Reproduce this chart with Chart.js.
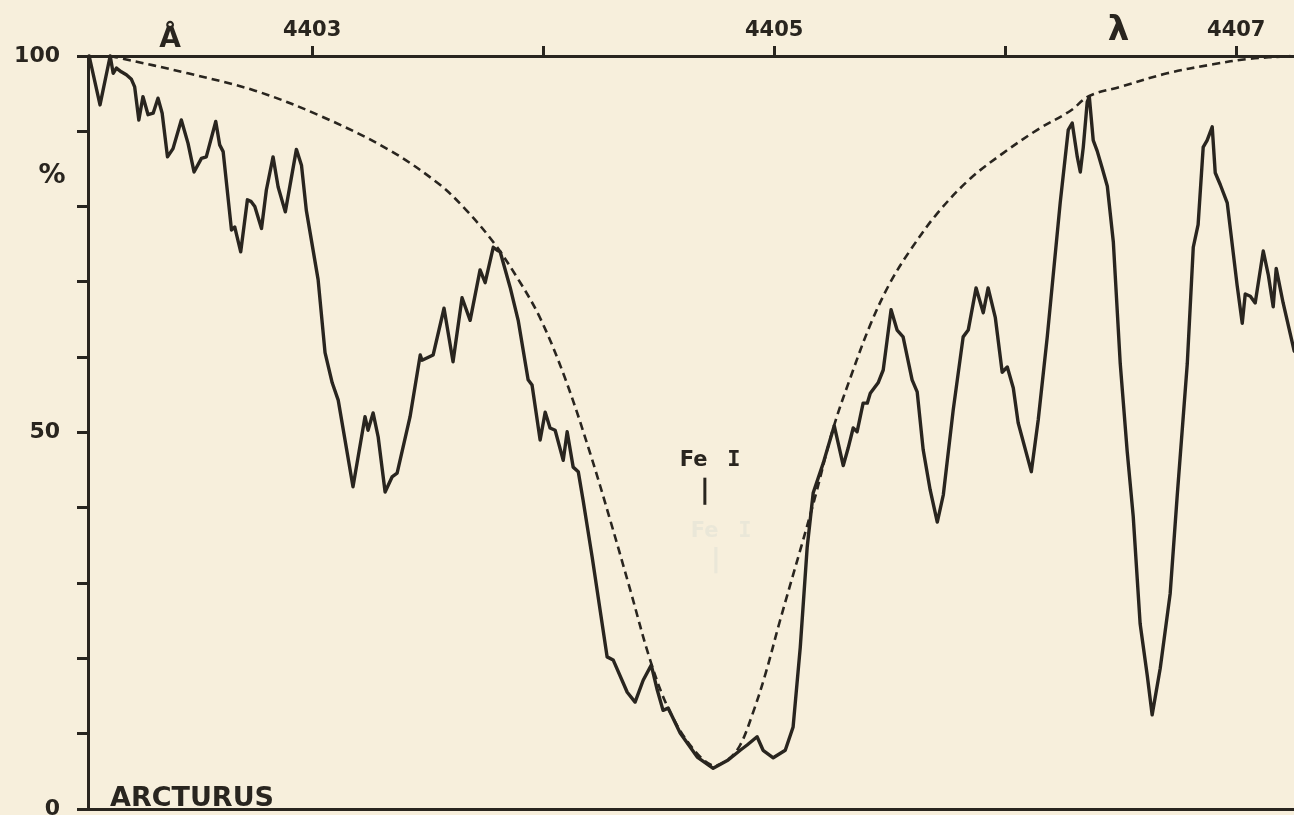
<!DOCTYPE html>
<html>
<head>
<meta charset="utf-8">
<title>Arcturus – Fe I 4404.75</title>
<script src="https://cdn.jsdelivr.net/npm/chart.js@4.4.1/dist/chart.umd.min.js"></script>
<style>
  html, body { margin: 0; padding: 0; background: #f7efdc; }
  #wrap { width: 1294px; height: 815px; }
  canvas { display: block; }
</style>
</head>
<body>
<div id="wrap"><canvas id="chart" width="1294" height="815"></canvas></div>
<script>
// Wavelength (Å) and residual intensity (%) of the tracing
const specWave = [
  4402.035, 4402.082, 4402.126, 4402.139, 4402.153, 4402.174, 4402.196, 4402.218, 4402.232, 4402.250,
  4402.268, 4402.290, 4402.312, 4402.333, 4402.351, 4402.374, 4402.398, 4402.434, 4402.463, 4402.489,
  4402.521, 4402.542, 4402.583, 4402.600, 4402.615, 4402.651, 4402.665, 4402.691, 4402.720, 4402.735,
  4402.752, 4402.781, 4402.802, 4402.831, 4402.853, 4402.884, 4402.932, 4402.954, 4402.975, 4403.026,
  4403.056, 4403.087, 4403.113, 4403.177, 4403.229, 4403.242, 4403.264, 4403.286, 4403.316, 4403.346,
  4403.368, 4403.424, 4403.468, 4403.476, 4403.524, 4403.571, 4403.610, 4403.649, 4403.684, 4403.727,
  4403.749, 4403.784, 4403.801, 4403.814, 4403.857, 4403.892, 4403.935, 4403.952, 4403.987, 4404.009,
  4404.030, 4404.052, 4404.087, 4404.104, 4404.130, 4404.152, 4404.173, 4404.212, 4404.277, 4404.303,
  4404.364, 4404.398, 4404.433, 4404.468, 4404.494, 4404.519, 4404.541, 4404.593, 4404.667, 4404.736,
  4404.801, 4404.853, 4404.883, 4404.926, 4404.952, 4404.996, 4405.048, 4405.082, 4405.113, 4405.143,
  4405.169, 4405.212, 4405.260, 4405.299, 4405.320, 4405.342, 4405.359, 4405.385, 4405.403, 4405.416,
  4405.450, 4405.472, 4405.489, 4405.506, 4405.532, 4405.558, 4405.597, 4405.619, 4405.645, 4405.675,
  4405.706, 4405.732, 4405.775, 4405.818, 4405.840, 4405.874, 4405.905, 4405.926, 4405.957, 4405.987,
  4406.009, 4406.035, 4406.056, 4406.113, 4406.143, 4406.182, 4406.238, 4406.273, 4406.290, 4406.312,
  4406.325, 4406.338, 4406.355, 4406.364, 4406.381, 4406.398, 4406.420, 4406.442, 4406.468, 4406.498,
  4406.528, 4406.554, 4406.584, 4406.615, 4406.636, 4406.671, 4406.714, 4406.745, 4406.788, 4406.814,
  4406.835, 4406.857, 4406.874, 4406.896, 4406.909, 4406.931, 4406.961, 4407.004, 4407.026, 4407.039,
  4407.061, 4407.082, 4407.117, 4407.139, 4407.160, 4407.173, 4407.203, 4407.251
];
const specFlux = [
  100.0, 93.5, 100.0, 97.7, 98.4, 97.9, 97.5, 96.9, 95.9, 91.5,
  94.6, 92.2, 92.4, 94.4, 92.4, 86.6, 87.7, 91.5, 88.4, 84.6,
  86.4, 86.6, 91.3, 88.2, 87.3, 76.9, 77.3, 74.0, 80.9, 80.7,
  80.0, 77.1, 82.2, 86.6, 82.6, 79.3, 87.6, 85.5, 79.5, 70.3,
  60.6, 56.6, 54.3, 42.8, 52.1, 50.3, 52.6, 49.4, 42.1, 44.1,
  44.6, 52.1, 60.3, 59.6, 60.3, 66.5, 59.4, 67.9, 64.9, 71.6,
  69.9, 74.6, 74.2, 74.0, 69.3, 64.9, 57.0, 56.3, 49.0, 52.7,
  50.6, 50.3, 46.3, 50.1, 45.4, 44.8, 41.0, 33.5, 20.2, 19.8,
  15.5, 14.2, 17.1, 19.1, 15.8, 13.1, 13.4, 10.1, 6.9, 5.4,
  6.5, 7.8, 8.5, 9.6, 7.8, 6.8, 7.8, 10.9, 21.5, 34.8,
  42.0, 45.9, 50.9, 45.6, 47.9, 50.6, 50.1, 53.9, 53.9, 55.2,
  56.6, 58.3, 62.3, 66.3, 63.6, 62.7, 57.0, 55.4, 47.7, 42.4,
  38.1, 41.7, 53.0, 62.7, 63.6, 69.2, 65.9, 69.2, 65.3, 58.0,
  58.7, 55.9, 51.3, 44.8, 51.7, 62.7, 80.5, 90.2, 91.1, 86.6,
  84.6, 87.9, 93.9, 94.6, 88.8, 87.4, 85.1, 82.7, 75.3, 59.1,
  47.5, 38.9, 24.6, 17.7, 12.5, 18.7, 28.6, 41.8, 59.1, 74.6,
  77.6, 87.9, 88.8, 90.6, 84.5, 82.9, 80.5, 69.5, 64.5, 68.4,
  68.1, 67.2, 74.1, 70.9, 66.7, 71.8, 67.2, 60.8
];

// Fitted profile of the Fe I line (dashed)
const profWave = [
  4402.126, 4402.173, 4402.463, 4402.753, 4403.039, 4403.329, 4403.545, 4403.662, 4403.784, 4403.887,
  4403.987, 4404.095, 4404.203, 4404.290, 4404.377, 4404.463, 4404.541, 4404.636, 4404.732, 4404.801,
  4404.853, 4404.905, 4404.961, 4405.026, 4405.113, 4405.177, 4405.255, 4405.329, 4405.416, 4405.502,
  4405.589, 4405.706, 4405.848, 4405.991, 4406.139, 4406.281, 4406.364, 4406.498, 4406.701, 4406.900,
  4407.048, 4407.234
];
const profFlux = [
  100.0, 99.7, 97.7, 95.4, 92.0, 87.6, 83.1, 79.7, 75.3, 70.6,
  65.2, 57.2, 47.3, 38.4, 29.1, 19.8, 13.4, 8.5, 5.8, 6.6,
  8.5, 12.5, 17.8, 25.1, 34.4, 41.4, 50.5, 57.2, 64.3, 69.9,
  74.2, 79.1, 83.7, 87.1, 90.2, 92.7, 94.7, 95.9, 97.7, 98.9,
  99.6, 100.0
];

// Axis ticks and labels
const waveRange = [4402.03, 4407.25];
const waveTicks = [4403, 4404, 4405, 4406, 4407];
const waveLabels = [4403, 4405, 4407];
const fluxTicks = [0, 10, 20, 30, 40, 50, 60, 70, 80, 90, 100];
const fluxLabels = [0, 50, 100];

// Line identification and captions
const lineWave = 4404.70;
const lineName = 'Fe';
const lineIon = 'I';
const starName = 'ARCTURUS';
const unitWave = 'Å';
const unitWaveAt = 4402.385;
const symWave = 'λ';
const symWaveAt = 4406.49;
const unitFlux = '%';
const unitFluxAt = 84;

const INK = '#29251f';
const PAPER = '#f7efdc';
const GHOST = 'rgba(170, 190, 200, 0.16)';
const FONT = 'DejaVu Sans';

const toPoints = (xs, ys) => xs.map((x, i) => ({ x, y: ys[i] }));

const paperPlugin = {
  id: 'paper',
  beforeDraw(chart) {
    const { ctx, width, height } = chart;
    ctx.save();
    ctx.fillStyle = PAPER;
    ctx.fillRect(0, 0, width, height);
    ctx.restore();
  }
};

const captionPlugin = {
  id: 'captions',
  afterDraw(chart) {
    const { ctx, chartArea } = chart;
    const xs = chart.scales.x;
    const ys = chart.scales.y;
    ctx.save();
    ctx.fillStyle = INK;
    ctx.textBaseline = 'alphabetic';

    // unit and symbol above the wavelength axis
    ctx.textAlign = 'center';
    ctx.font = `bold 28px "${FONT}"`;
    ctx.fillText(unitWave, xs.getPixelForValue(unitWaveAt), chartArea.top - 9);
    ctx.font = `bold 34px "${FONT}"`;
    ctx.fillText(symWave, xs.getPixelForValue(symWaveAt), chartArea.top - 16);

    // percent sign beside the intensity axis
    ctx.font = `bold 27px "${FONT}"`;
    ctx.textBaseline = 'middle';
    ctx.fillText(unitFlux, chartArea.left - 36, ys.getPixelForValue(unitFluxAt));

    // star name on the zero line
    ctx.textAlign = 'left';
    ctx.textBaseline = 'alphabetic';
    ctx.font = `bold 27px "${FONT}"`;
    ctx.fillText(starName, chartArea.left + 22, chartArea.bottom - 3);

    // line identification
    const lx = xs.getPixelForValue(lineWave);
    const drawId = (x0, base, top, bottom) => {
      ctx.textAlign = 'left';
      ctx.font = `bold 21px "${FONT}"`;
      ctx.fillText(lineName, x0 - 25, base);
      ctx.textAlign = 'center';
      ctx.font = `bold 22px "DejaVu Sans Mono"`;
      ctx.fillText(lineIon, x0 + 29, base);
      ctx.fillRect(x0 - 1.5, ys.getPixelForValue(top), 3, ys.getPixelForValue(bottom) - ys.getPixelForValue(top));
    };
    // faint show-through of the same label from the reverse side
    ctx.fillStyle = GHOST;
    drawId(lx + 11, ys.getPixelForValue(36.1), 34.8, 31.3);
    ctx.fillStyle = INK;
    drawId(lx, ys.getPixelForValue(45.6), 44.0, 40.4);

    ctx.restore();
  }
};

new Chart(document.getElementById('chart'), {
  type: 'line',
  data: {
    datasets: [
      {
        label: 'profile',
        data: toPoints(profWave, profFlux),
        borderColor: INK,
        borderWidth: 2.6,
        borderDash: [8, 5],
        tension: 0.35,
        pointRadius: 0,
        fill: false,
        clip: false,
        order: 2
      },
      {
        label: 'Arcturus',
        data: toPoints(specWave, specFlux),
        borderColor: INK,
        borderWidth: 3.4,
        borderJoinStyle: 'round',
        borderCapStyle: 'round',
        tension: 0,
        pointRadius: 0,
        fill: false,
        clip: false,
        order: 1
      }
    ]
  },
  options: {
    responsive: false,
    animation: false,
    devicePixelRatio: 1,
    layout: { padding: 0 },
    plugins: { legend: { display: false }, tooltip: { enabled: false } },
    scales: {
      x: {
        type: 'linear',
        position: 'top',
        min: waveRange[0],
        max: waveRange[1],
        afterBuildTicks: s => { s.ticks = waveTicks.map(v => ({ value: v })); },
        afterFit: s => { s.height = 56; s.paddingLeft = 0; s.paddingRight = 0; },
        ticks: {
          autoSkip: false,
          maxRotation: 0,
          padding: 3,
          color: INK,
          font: { family: FONT, weight: 'bold', size: 21 },
          callback: v => (waveLabels.includes(v) ? String(v) : '')
        },
        grid: { drawOnChartArea: false, drawTicks: true, tickLength: 10, tickWidth: 3, tickColor: INK },
        border: { display: true, color: INK, width: 3 }
      },
      xBase: {
        type: 'linear',
        position: 'bottom',
        min: waveRange[0],
        max: waveRange[1],
        afterFit: s => { s.height = 6; s.paddingLeft = 0; s.paddingRight = 0; },
        ticks: { display: false },
        grid: { display: false },
        border: { display: true, color: INK, width: 3 }
      },
      y: {
        type: 'linear',
        position: 'left',
        min: 0,
        max: 100,
        afterBuildTicks: s => { s.ticks = fluxTicks.map(v => ({ value: v })); },
        afterFit: s => { s.width = 88; s.paddingTop = 0; s.paddingBottom = 0; },
        ticks: {
          autoSkip: false,
          padding: 17,
          color: INK,
          font: { family: FONT, weight: 'bold', size: 22 },
          callback: v => (fluxLabels.includes(v) ? String(v) : '')
        },
        grid: { drawOnChartArea: false, drawTicks: true, tickLength: 11, tickWidth: 3, tickColor: INK },
        border: { display: true, color: INK, width: 3 }
      }
    }
  },
  plugins: [paperPlugin, captionPlugin]
});
</script>
</body>
</html>
